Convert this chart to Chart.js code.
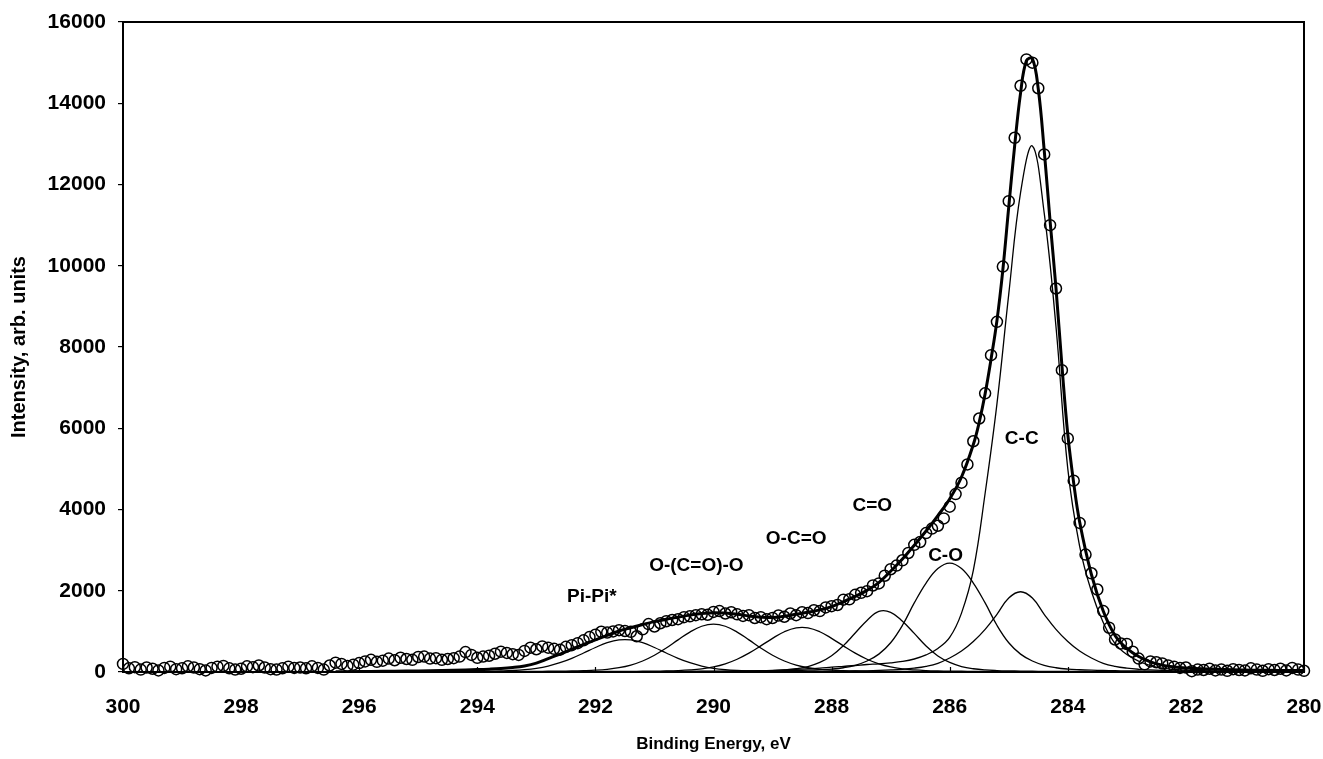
<!DOCTYPE html>
<html>
<head>
<meta charset="utf-8">
<script src="https://cdn.jsdelivr.net/npm/chart.js@4.4.0/dist/chart.umd.min.js"></script>
<style>
  html, body { margin: 0; padding: 0; background: #fff; }
  canvas { display: block; }
</style>
</head>
<body>
<canvas id="c" width="1323" height="759"></canvas>
<script>
// ---------- measured data (binding energy, eV / intensity, arb. units) ----------
const energies = [
300.0,299.9,299.8,299.7,299.6,299.5,299.4,299.3,299.2,299.1,
299.0,298.9,298.8,298.7,298.6,298.5,298.4,298.3,298.2,298.1,
298.0,297.9,297.8,297.7,297.6,297.5,297.4,297.3,297.2,297.1,
297.0,296.9,296.8,296.7,296.6,296.5,296.4,296.3,296.2,296.1,
296.0,295.9,295.8,295.7,295.6,295.5,295.4,295.3,295.2,295.1,
295.0,294.9,294.8,294.7,294.6,294.5,294.4,294.3,294.2,294.1,
294.0,293.9,293.8,293.7,293.6,293.5,293.4,293.3,293.2,293.1,
293.0,292.9,292.8,292.7,292.6,292.5,292.4,292.3,292.2,292.1,
292.0,291.9,291.8,291.7,291.6,291.5,291.4,291.3,291.2,291.1,
291.0,290.9,290.8,290.7,290.6,290.5,290.4,290.3,290.2,290.1,
290.0,289.9,289.8,289.7,289.6,289.5,289.4,289.3,289.2,289.1,
289.0,288.9,288.8,288.7,288.6,288.5,288.4,288.3,288.2,288.1,
288.0,287.9,287.8,287.7,287.6,287.5,287.4,287.3,287.2,287.1,
287.0,286.9,286.8,286.7,286.6,286.5,286.4,286.3,286.2,286.1,
286.0,285.9,285.8,285.7,285.6,285.5,285.4,285.3,285.2,285.1,
285.0,284.9,284.8,284.7,284.6,284.5,284.4,284.3,284.2,284.1,
284.0,283.9,283.8,283.7,283.6,283.5,283.4,283.3,283.2,283.1,
283.0,282.9,282.8,282.7,282.6,282.5,282.4,282.3,282.2,282.1,
282.0,281.9,281.8,281.7,281.6,281.5,281.4,281.3,281.2,281.1,
281.0,280.9,280.8,280.7,280.6,280.5,280.4,280.3,280.2,280.1,280.0];

const measured = [
200,90,120,60,110,80,40,100,130,70,
90,140,110,70,40,100,130,150,90,60,
80,140,120,160,110,70,60,90,130,100,
110,90,140,100,60,160,230,200,150,180,
220,260,300,250,280,330,290,350,320,300,
370,380,330,340,300,320,340,380,490,420,
350,380,400,450,500,470,440,420,520,600,
560,630,600,570,550,620,660,710,780,860,
920,990,970,1000,1030,1010,990,880,1050,1180,
1120,1200,1250,1280,1300,1350,1370,1400,1420,1410,
1480,1500,1440,1470,1420,1380,1400,1330,1350,1300,
1330,1390,1360,1440,1400,1470,1450,1520,1500,1590,
1620,1650,1780,1790,1900,1950,1990,2130,2180,2370,
2530,2620,2750,2930,3130,3200,3420,3530,3600,3780,
4070,4380,4660,5110,5680,6240,6860,7800,8620,9980,
11590,13150,14430,15080,15000,14370,12740,11000,9440,7430,
5750,4710,3670,2890,2430,2030,1500,1090,800,700,
690,500,330,190,260,240,210,160,130,100,
110,20,60,50,80,40,60,30,70,50,
40,90,60,30,70,50,80,40,100,60,30];

// ---------- fit envelope (thick line) ----------
const envE = [296.4,296.0,295.6,295.2,294.8,294.4,294.0,
293.8,293.6,293.4,293.2,293.0,292.8,292.6,292.4,292.2,292.0,
291.8,291.6,291.4,291.2,291.0,290.8,290.6,290.4,290.2,290.0,
289.8,289.6,289.4,289.2,289.0,288.8,288.6,288.4,288.2,288.0,
287.8,287.6,287.4,287.2,287.0,286.8,286.6,286.4,286.2,286.0,
285.8,285.6,
285.5,285.4,285.3,285.2,285.1,285.0,284.9,284.8,284.7,284.6,284.5,284.4,284.3,284.2,284.1,284.0,283.9,
283.8,283.6,283.4,283.2,283.0,282.8,282.6,282.4,282.2,282.0,
281.6,281.2,280.8,280.4,280.0];
const envI = [5,10,16,22,30,45,60,
70,85,110,150,220,330,440,560,680,790,
900,1010,1090,1170,1240,1300,1350,1400,1440,1460,
1450,1420,1380,1350,1340,1370,1420,1470,1530,1610,
1730,1860,2010,2200,2480,2780,3120,3470,3850,4260,
4800,5600,
6150,6850,7700,8650,9900,11450,12950,14250,15050,15100,14350,12850,11100,9450,7550,5850,4650,
3700,2400,1500,900,580,380,250,170,125,100,
75,55,45,40,35];

// ---------- fitted components (thin lines) on a common energy grid ----------
const compE = [
296.0,295.8,295.6,295.4,295.2,295.0,294.8,294.6,294.4,294.2,
294.0,293.8,293.6,293.4,293.2,293.0,292.8,292.6,292.4,292.2,
292.0,291.8,291.6,291.4,291.2,291.0,290.8,290.6,290.4,290.2,
290.0,289.8,289.6,289.4,289.2,289.0,288.8,288.6,288.4,288.2,
288.0,287.8,287.6,287.4,287.2,287.0,286.8,286.6,286.4,286.2,
286.0,285.8,285.6,285.4,285.2,285.0,284.8,284.6,284.4,284.2,
284.0,283.8,283.6,283.4,283.2,283.0,282.8,282.6,282.4,282.2,
282.0,281.8,281.6,281.4,281.2,281.0,280.8,280.6,280.4,280.2,
280.0];

const piPi = [
4,5,5,6,7,8,9,10,11,13,
16,19,26,37,57,91,146,228,337,467,
603,721,790,790,721,603,467,337,228,146,
91,57,37,26,19,16,13,11,10,9,
8,7,7,6,6,5,5,5,5,4,
4,4,4,4,3,3,3,3,3,3,
3,3,3,2,2,2,2,2,2,2,
2,2,2,2,2,2,2,2,2,2,
2];

const carbonate = [ // O-(C=O)-O
5,5,6,6,6,7,7,8,8,9,
9,10,11,12,14,16,18,21,25,33,
45,67,106,171,271,412,590,791,983,1126,
1180,1126,983,791,590,412,271,171,106,67,
45,33,25,21,18,16,14,12,11,10,
9,8,8,7,7,6,6,6,6,5,
5,5,5,5,4,4,4,4,4,4,
4,3,3,3,3,3,3,3,3,3,
3];

const carboxyl = [ // O-C=O
4,4,4,5,5,5,5,5,6,6,
6,6,7,7,7,8,8,9,9,10,
11,12,14,16,18,21,26,35,51,78,
125,201,314,463,642,829,991,1087,1087,991,
829,642,463,314,201,125,78,51,35,26,
21,18,16,14,12,11,10,9,9,8,
8,7,7,7,6,6,6,6,5,5,
5,5,5,5,4,4,4,4,4,4,
4];

const carbonyl = [ // C=O
3,4,4,4,4,4,4,4,4,5,
5,5,5,5,5,6,6,6,6,7,
7,7,8,8,9,9,10,11,12,13,
14,16,19,22,27,35,50,80,135,235,
400,650,960,1270,1490,1470,1250,950,640,395,
235,135,80,50,35,27,22,19,16,14,
13,12,11,10,9,9,8,8,7,7,
7,6,6,6,6,5,5,5,5,5,
5];

const ether = [ // C-O
5,5,5,5,5,6,6,6,6,6,
6,7,7,7,7,8,8,8,8,9,
9,9,10,10,11,11,12,13,14,15,
17,18,20,22,25,28,32,37,44,55,
72,105,165,270,440,720,1150,1700,2190,2546,
2680,2546,2190,1700,1150,720,440,270,165,105,
72,55,44,37,32,28,25,22,20,18,
17,15,14,13,12,11,11,10,10,9,
9];

const ccSmall = [ // second C-C contribution
3,3,3,3,3,3,3,4,4,4,
4,4,4,4,4,5,5,5,5,5,
5,5,6,6,6,6,6,7,7,7,
8,8,9,9,10,11,12,13,14,16,
18,21,25,30,38,50,67,95,140,215,
345,515,750,1050,1420,1820,1975,1820,1420,1050,
750,515,345,215,140,95,67,50,38,30,
25,21,18,16,14,13,12,11,10,9,
9];

const ccMain = [ // C-C
3,3,3,3,3,3,3,4,4,4,
4,4,4,4,4,4,5,5,5,5,
6,6,6,7,7,8,8,9,10,12,
14,17,21,26,32,40,50,65,80,95,
120,140,160,185,200,225,260,320,420,580,
850,1450,2500,4400,6600,9300,11800,12950,11300,8500,
5000,3100,1980,1220,700,430,265,160,95,65,
45,35,25,20,15,12,10,9,8,7,
6];

// ---------- axis ticks and peak labels ----------
const xTickValues = [300,298,296,294,292,290,288,286,284,282,280];
const yTickValues = [0,2000,4000,6000,8000,10000,12000,14000,16000];
const peakNames  = ["Pi-Pi*", "O-(C=O)-O", "O-C=O", "C=O", "C-O", "C-C"];
const peakLabelE = [292.06, 290.29, 288.60, 287.31, 286.07, 284.78];
const peakLabelI = [1846, 2620, 3280, 4080, 2855, 5750];

// ---------- build datasets ----------
const FONT = "'Liberation Sans', Arial, Helvetica, sans-serif";
const toPts = (xs, ys) => xs.map((x, i) => ({x: x, y: ys[i]}));
const thin = (arr) => ({
  type: 'line', data: toPts(compE, arr), borderColor: '#000', borderWidth: 1.3,
  pointRadius: 0, tension: 0.4, fill: false
});

const frame = {
  id: 'frame',
  afterDatasetsDraw(chart) {
    const {ctx, chartArea: a, scales: {x, y}} = chart;
    ctx.save();
    ctx.strokeStyle = '#000';
    ctx.lineWidth = 2;
    ctx.strokeRect(a.left, a.top, a.right - a.left, a.bottom - a.top);
    ctx.lineWidth = 1.2;
    ctx.beginPath();
    xTickValues.forEach(v => {
      const px = Math.round(x.getPixelForValue(v)) + 0.5;
      ctx.moveTo(px, a.bottom);
      ctx.lineTo(px, a.bottom - 5);
    });
    ctx.stroke();
    ctx.fillStyle = '#000';
    ctx.font = "bold 19px " + FONT;
    ctx.textAlign = 'center';
    ctx.textBaseline = 'middle';
    peakNames.forEach((t, i) => {
      ctx.fillText(t, x.getPixelForValue(peakLabelE[i]), y.getPixelForValue(peakLabelI[i]));
    });
    ctx.restore();
  }
};

new Chart(document.getElementById('c'), {
  data: {
    datasets: [
      {
        type: 'scatter', data: toPts(energies, measured), showLine: false,
        pointStyle: 'circle', pointRadius: 5.5, pointBorderWidth: 1.5,
        pointBorderColor: '#000', pointBackgroundColor: 'rgba(0,0,0,0)', clip: false
      },
      {
        type: 'line', data: toPts(envE, envI), borderColor: '#000', borderWidth: 3,
        pointRadius: 0, tension: 0.4, fill: false
      },
      thin(ccMain), thin(ccSmall), thin(ether), thin(carbonyl),
      thin(carboxyl), thin(carbonate), thin(piPi)
    ]
  },
  options: {
    responsive: false,
    animation: false,
    devicePixelRatio: 1,
    events: [],
    layout: { padding: { top: 22, right: 19, left: 0, bottom: 0 } },
    plugins: { legend: { display: false }, tooltip: { enabled: false } },
    scales: {
      x: {
        type: 'linear', reverse: true, min: 280, max: 300,
        afterBuildTicks: (s) => { s.ticks = xTickValues.map(v => ({value: v})); },
        ticks: { color: '#000', font: { family: FONT, size: 21, weight: 'bold' },
                 padding: 23, maxRotation: 0, autoSkip: false },
        grid: { display: false, drawTicks: false },
        border: { display: false },
        title: { display: true, text: 'Binding Energy, eV', color: '#000',
                 font: { family: FONT, size: 17, weight: 'bold' },
                 padding: { top: 0, bottom: 4 } },
        afterFit: (s) => { s.height = 87; s.paddingLeft = 0; s.paddingRight = 0; }
      },
      y: {
        min: 0, max: 16000,
        afterBuildTicks: (s) => { s.ticks = yTickValues.map(v => ({value: v})); },
        ticks: { color: '#000', font: { family: FONT, size: 21, weight: 'bold' },
                 padding: 12, callback: (v) => String(v) },
        grid: { display: true, drawOnChartArea: false, drawTicks: true,
                tickLength: 5, color: '#000', lineWidth: 1.2 },
        border: { display: false },
        title: { display: true, text: 'Intensity, arb. units', color: '#000',
                 font: { family: FONT, size: 20, weight: 'bold' },
                 padding: { top: 7, bottom: 0 } },
        afterFit: (s) => { s.width = 123; s.paddingTop = 0; s.paddingBottom = 0; }
      }
    }
  },
  plugins: [frame]
});
</script>
</body>
</html>
